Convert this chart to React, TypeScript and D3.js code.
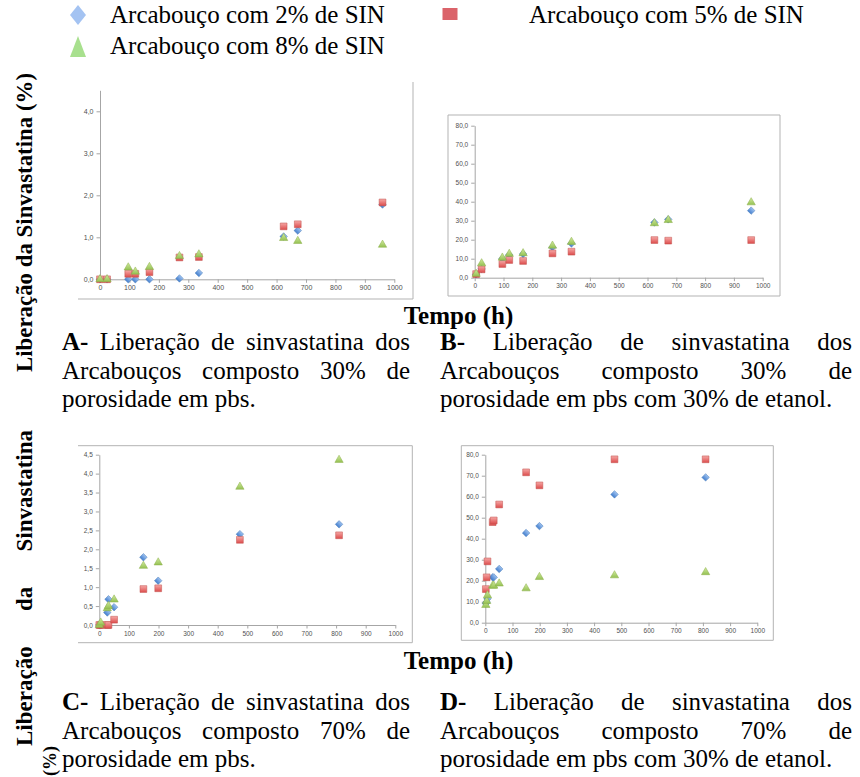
import React, { useEffect, useRef } from "react";
import * as d3 from "d3";

// ---- Release data (% sinvastatina released vs. time in hours) ----
// A – 30% porosity scaffolds in PBS
const hoursA = [0, 24, 96, 120, 168, 270, 336, 624, 672, 960];
const releaseA2 = [0, 0, 0, 0, 0, 0.02, 0.15, 1.02, 1.16, 1.78];
const releaseA5 = [0, 0, 0.13, 0.13, 0.17, 0.52, 0.53, 1.26, 1.31, 1.83];
const releaseA8 = [0, 0, 0.28, 0.18, 0.29, 0.55, 0.59, 0.98, 0.91, 0.82];

// B – 30% porosity scaffolds in PBS with 30% ethanol
const hoursB = [5, 24, 96, 120, 168, 270, 336, 624, 672, 960];
const releaseB2 = [1.8, 4.6, 10.0, 12.0, 12.5, 16.0, 18.0, 29.1, 30.7, 35.3];
const releaseB5 = [1.9, 4.4, 7.2, 9.3, 8.8, 12.8, 13.7, 19.8, 19.5, 19.8];
const releaseB8 = [2.0, 7.5, 10.5, 12.5, 12.8, 16.8, 18.8, 28.6, 30.3, 39.6];

// C – 70% porosity scaffolds in PBS
const hoursC = [0, 5, 27, 31, 50, 149, 199, 475, 810];
const releaseC2 = [0, 0, 0.33, 0.68, 0.47, 1.79, 1.17, 2.4, 2.66];
const releaseC5 = [0, 0, 0, 0, 0.14, 0.95, 0.97, 2.25, 2.37];
const releaseC8 = [0, 0.06, 0.44, 0.5, 0.67, 1.56, 1.65, 3.65, 4.36];

// D – 70% porosity scaffolds in PBS with 30% ethanol
const hoursD = [2, 5, 8, 27, 31, 51, 150, 199, 475, 810];
const releaseD2 = [9.2, 9.8, 11.4, 21.6, 21.6, 25.6, 42.7, 46.0, 61.1, 69.2];
const releaseD5 = [16.0, 21.6, 29.2, 47.9, 48.7, 56.3, 71.6, 65.4, 77.8, 77.8];
const releaseD8 = [8.4, 10.3, 13.0, 17.6, 17.6, 18.6, 16.3, 21.7, 22.5, 24.0];

// ---- Tick values ----
const timeTicks = [0, 100, 200, 300, 400, 500, 600, 700, 800, 900, 1000];
const ticksA = [0, 1, 2, 3, 4];
const ticksC = [0, 0.5, 1, 1.5, 2, 2.5, 3, 3.5, 4, 4.5];
const ticksPct = [0, 10, 20, 30, 40, 50, 60, 70, 80];

// ---- Text ----
const seriesNames = [
  "Arcabouço com 2% de SIN",
  "Arcabouço com 5% de SIN",
  "Arcabouço com 8% de SIN",
];
const yTitle = "Liberação da Sinvastatina (%)";
const yTitleWrapped = ["Liberação da Sinvastatina", "(%)"];
const xTitle = "Tempo (h)";
const captionA = ["A-", "Liberação de sinvastatina dos", "Arcabouços composto 30% de", "porosidade em pbs."];
const captionB = ["B-", "Liberação de sinvastatina dos", "Arcabouços composto 30% de", "porosidade em pbs com 30% de etanol."];
const captionC = ["C-", "Liberação de sinvastatina dos", "Arcabouços composto 70% de", "porosidade em pbs."];
const captionD = ["D-", "Liberação de sinvastatina dos", "Arcabouços composto 70% de", "porosidade em pbs com 30% de etanol."];

const SERIF = "'Liberation Serif', 'Times New Roman', serif";
const SANS = "'Liberation Sans', Arial, sans-serif";

type Seg = [number, number, number, number];
type PanelSpec = {
  hours: number[];
  series: number[][];
  yMax: number;
  yTicks: number[];
  xRange: [number, number];
  yRange: [number, number];
  tickFont: number;
  frame: Seg[];
};

const rectSegs = (l: number, t: number, r: number, b: number): Seg[] => [
  [l, t, r, t],
  [r, t, r, b],
  [l, b, r, b],
  [l, t, l, b],
];

const panels: PanelSpec[] = [
  {
    hours: hoursA,
    series: [releaseA2, releaseA5, releaseA8],
    yMax: 4.5,
    yTicks: ticksA,
    xRange: [100, 394.3],
    yRange: [279.3, 90.3],
    tickFont: 7,
    frame: [
      [78, 299, 413, 299],
      [413, 82, 413, 299],
    ],
  },
  {
    hours: hoursB,
    series: [releaseB2, releaseB5, releaseB8],
    yMax: 80,
    yTicks: ticksPct,
    xRange: [474.7, 762.7],
    yRange: [277.7, 125.7],
    tickFont: 6.5,
    frame: rectSegs(448, 115, 780, 296),
  },
  {
    hours: hoursC,
    series: [releaseC2, releaseC5, releaseC8],
    yMax: 4.5,
    yTicks: ticksC,
    xRange: [99.3, 395.3],
    yRange: [625, 454.7],
    tickFont: 6.5,
    frame: [
      [78, 445.7, 412.3, 445.7],
      [412.3, 445.7, 412.3, 642.7],
      [78, 642.7, 412.3, 642.7],
    ],
  },
  {
    hours: hoursD,
    series: [releaseD2, releaseD5, releaseD8],
    yMax: 80,
    yTicks: ticksPct,
    xRange: [485.3, 757.3],
    yRange: [622.7, 454.7],
    tickFont: 6.5,
    frame: rectSegs(461.3, 445.7, 773.3, 640.3),
  },
];

const decimalComma = (v: number) => d3.format(".1f")(v).replace(".", ",");

const markerFills = ["url(#gBlue)", "url(#gRed)", "url(#gGreen)"];
const markerStrokes = ["#4a7ebb", "#c0504d", "#8aae48"];

export default function App() {
  const ref = useRef<SVGSVGElement | null>(null);

  useEffect(() => {
    const svg = d3.select(ref.current);
    svg.selectAll("*").remove();

    // gradients for the scatter markers
    const defs = svg.append("defs");
    const grad = (id: string, top: string, bottom: string) => {
      const g = defs
        .append("linearGradient")
        .attr("id", id)
        .attr("x1", 0)
        .attr("y1", 0)
        .attr("x2", 0)
        .attr("y2", 1);
      g.append("stop").attr("offset", "0%").attr("stop-color", top);
      g.append("stop").attr("offset", "100%").attr("stop-color", bottom);
    };
    grad("gBlue", "#9ec2f0", "#4580cf");
    grad("gRed", "#f6a8a6", "#dc4c4c");
    grad("gGreen", "#d2eaa0", "#94c152");

    const symbolGen = [
      d3.symbol(d3.symbolSquare, 28),
      d3.symbol(d3.symbolSquare, 46),
      d3.symbol(d3.symbolTriangle, 30),
    ];

    // ---- scatter panels ----
    panels.forEach((p) => {
      const g = svg.append("g");
      const x = d3.scaleLinear().domain([0, 1000]).range(p.xRange);
      const y = d3.scaleLinear().domain([0, p.yMax]).range(p.yRange);

      g.selectAll("line.frame")
        .data(p.frame)
        .join("line")
        .attr("class", "frame")
        .attr("x1", (d) => d[0])
        .attr("y1", (d) => d[1])
        .attr("x2", (d) => d[2])
        .attr("y2", (d) => d[3])
        .attr("stroke", "#b3b3b3")
        .attr("stroke-width", 1);

      const yAxis = g
        .append("g")
        .attr("transform", `translate(${p.xRange[0]},0)`)
        .call(
          d3
            .axisLeft(y)
            .tickValues(p.yTicks)
            .tickFormat((v) => decimalComma(v as number))
            .tickSize(3.5)
            .tickSizeOuter(0)
            .tickPadding(3)
        );
      const xAxis = g
        .append("g")
        .attr("transform", `translate(0,${p.yRange[0]})`)
        .call(
          d3
            .axisBottom(x)
            .tickValues(timeTicks)
            .tickFormat((v) => String(v))
            .tickSize(3.5)
            .tickSizeOuter(0)
            .tickPadding(2.5)
        );
      [yAxis, xAxis].forEach((a) => {
        a.attr("font-family", SANS).attr("font-size", p.tickFont);
        a.selectAll("path, line").attr("stroke", "#a6a6a6");
        a.selectAll("text").attr("fill", "#505050");
      });

      p.series.forEach((vals, si) => {
        g.append("g")
          .selectAll("path")
          .data(vals.map((v, i) => [p.hours[i], v]))
          .join("path")
          .attr("d", symbolGen[si]() as string)
          .attr(
            "transform",
            (d) =>
              `translate(${x(d[0])},${y(d[1])})` + (si === 0 ? " rotate(45)" : "")
          )
          .attr("fill", markerFills[si])
          .attr("stroke", markerStrokes[si])
          .attr("stroke-width", 0.5);
      });
    });

    // ---- legend ----
    const legend = svg.append("g");
    legend
      .append("path")
      .attr("d", "M0,-10 L8,0 L0,10 L-8,0 Z")
      .attr("transform", "translate(78,15)")
      .attr("fill", "#a4c3f2");
    legend
      .append("rect")
      .attr("x", 442.5)
      .attr("y", 8)
      .attr("width", 15)
      .attr("height", 12)
      .attr("fill", "#db636a");
    legend
      .append("path")
      .attr("d", "M0,-10 L8,11 L-8,11 Z")
      .attr("transform", "translate(78,46)")
      .attr("fill", "#a8e08e");
    const legendPos: [number, number][] = [
      [110, 23],
      [529, 23],
      [110, 54],
    ];
    seriesNames.forEach((n, i) => {
      legend
        .append("text")
        .attr("x", legendPos[i][0])
        .attr("y", legendPos[i][1])
        .attr("font-family", SERIF)
        .attr("font-size", 25)
        .attr("fill", "#000")
        .text(n);
    });

    // ---- text helpers ----
    const justifyText = (
      t: d3.Selection<SVGTextElement, unknown, null, undefined>,
      width: number,
      content: string
    ) => {
      const natural = (t.node() as SVGTextElement).getComputedTextLength();
      const spaces = content.split(" ").length - 1;
      if (spaces > 0) t.attr("word-spacing", (width - natural) / spaces);
    };

    const captionLine = (
      x0: number,
      x1: number,
      baseline: number,
      prefix: string | null,
      rest: string,
      justify: boolean
    ) => {
      const t = svg
        .append("text")
        .attr("x", x0)
        .attr("y", baseline)
        .attr("font-family", SERIF)
        .attr("font-size", 25)
        .attr("fill", "#000")
        .style("white-space", "pre");
      if (prefix) t.append("tspan").attr("font-weight", "bold").text(prefix);
      t.append("tspan").text(prefix ? " " + rest : rest);
      if (justify) justifyText(t as any, x1 - x0, prefix ? prefix + " " + rest : rest);
    };

    const caption = (lines: string[], x0: number, x1: number, base: number) => {
      captionLine(x0, x1, base, lines[0], lines[1], true);
      captionLine(x0, x1, base + 28.7, null, lines[2], true);
      captionLine(x0, x1, base + 57.4, null, lines[3], false);
    };
    caption(captionA, 62, 410, 350);
    caption(captionB, 440, 852, 350);
    caption(captionC, 62, 410, 710);
    caption(captionD, 440, 852, 710);

    // x titles
    [324, 669].forEach((yb) => {
      svg
        .append("text")
        .attr("x", 458.5)
        .attr("y", yb)
        .attr("text-anchor", "middle")
        .attr("font-family", SERIF)
        .attr("font-weight", "bold")
        .attr("font-size", 25)
        .text(xTitle);
    });

    // y titles (rotated)
    svg
      .append("text")
      .attr("transform", "translate(32,372) rotate(-90)")
      .attr("font-family", SERIF)
      .attr("font-weight", "bold")
      .attr("font-size", 23)
      .attr("textLength", 299)
      .attr("lengthAdjust", "spacingAndGlyphs")
      .text(yTitle);

    const y2 = svg
      .append("text")
      .attr("transform", "translate(32,746) rotate(-90)")
      .attr("font-family", SERIF)
      .attr("font-weight", "bold")
      .attr("font-size", 23)
      .style("white-space", "pre")
      .text(yTitleWrapped[0]);
    justifyText(y2 as any, 316, yTitleWrapped[0]);
    svg
      .append("text")
      .attr("transform", "translate(56,776) rotate(-90)")
      .attr("font-family", SERIF)
      .attr("font-weight", "bold")
      .attr("font-size", 18)
      .text(yTitleWrapped[1]);
  }, []);

  return (
    <svg
      ref={ref}
      width={860}
      height={777}
      style={{ position: "absolute", left: 0, top: 0, background: "#fff" }}
    />
  );
}
